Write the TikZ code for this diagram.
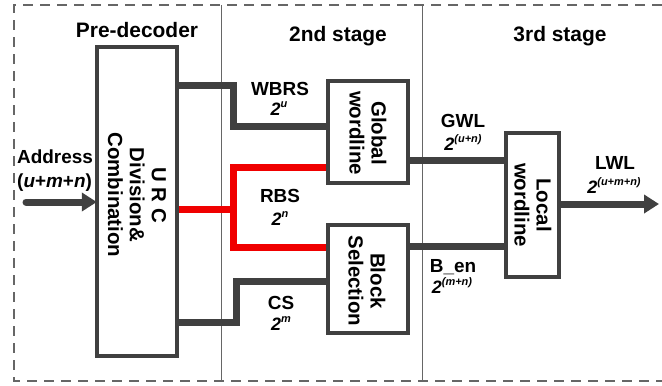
\documentclass[tikz,border=0pt]{standalone}
\usepackage{fontspec}
\setmainfont{Liberation Sans}
\usetikzlibrary{arrows.meta}
\definecolor{dk}{HTML}{404040}
\definecolor{rd}{HTML}{F00000}
\newcommand{\pw}[1]{2\raisebox{7.5bp}{\fontsize{11}{12}\selectfont #1}}
\tikzset{
  blk/.style={draw=dk, line width=3.5bp, fill=white, inner sep=0pt},
  wire/.style={draw=dk, line width=7bp},
  rwire/.style={draw=rd, line width=7bp},
  boxtxt/.style={font=\fontsize{20.5}{22}\selectfont\bfseries, align=center, rotate=-90, inner sep=0pt},
  stagetxt/.style={font=\fontsize{21}{24}\selectfont\bfseries, anchor=base, inner sep=0pt},
  lbl/.style={font=\fontsize{19}{21}\selectfont\bfseries, anchor=base, inner sep=0pt},
  sup/.style={font=\fontsize{18}{20}\selectfont\bfseries\itshape, anchor=base, inner sep=0pt},
  arr/.style={-{Triangle[length=15bp,width=18bp]}, line width=7bp, draw=dk, line cap=round}
}
\begin{document}
\begin{tikzpicture}[x=1bp,y=-1bp]
\useasboundingbox (0,0) rectangle (662,385);
% frame
\draw[gray!80!black, line width=1.8bp, dash pattern=on 10bp off 7bp] (662,5) -- (14,5) -- (14,381) -- (662,381);
\draw[gray!80!black, line width=1bp] (221,5) -- (221,381);
\draw[gray!80!black, line width=1bp] (422,5) -- (422,381);
% stage titles
\node[stagetxt] (t1) at (137,37) {Pre-decoder};
\node[stagetxt] (t2) at (338,41) {2nd stage};
\node[stagetxt] (t3) at (560,41) {3rd stage};
% node anchors for the boxes
\node (pre) at (137,201.5) [minimum width=80bp, minimum height=309bp] {};
\node (glob) at (368,132) [minimum width=80bp, minimum height=102bp] {};
\node (bsel) at (368,279) [minimum width=80bp, minimum height=108bp] {};
\node (loc) at (532.5,205) [minimum width=53bp, minimum height=144bp] {};
% wires
\coordinate (a0) at (26,202);
\coordinate (lw) at (659,204);
\draw[wire] (pre.east |- 0,85) -- (233,85) -- (233,126) -- (glob.west |- 0,126);
\draw[rwire] (pre.east |- 0,209) -- (233,209);
\draw[rwire] (glob.west |- 0,167) -- (233,167) -- (233,247) -- (bsel.west |- 0,247);
\draw[wire] (pre.east |- 0,322) -- (236,322) -- (236,281) -- (bsel.west |- 0,281);
\draw[wire] (glob.east |- 0,160) -- (loc.west |- 0,160);
\draw[wire] (bsel.east |- 0,246) -- (loc.west |- 0,246);
\draw[arr] (loc.east |- lw) -- (lw);
\draw[arr] (a0) -- (pre.west |- a0);
% boxes
\path[blk] (pre.south west) rectangle (pre.north east);
\path[blk] (glob.south west) rectangle (glob.north east);
\path[blk] (bsel.south west) rectangle (bsel.north east);
\path[blk] (loc.south west) rectangle (loc.north east);
% box texts
\node[boxtxt] (pret) at (137,195) {U R C\\Division\&\\Combination};
\node[boxtxt] (globt) at (368,133) {Global\\wordline};
\node[boxtxt] (bselt) at (367,281) {Block\\Selection};
\node[boxtxt] (loct) at (533,205) {Local\\wordline};
% labels
\node[lbl] (la) at (17,163) [anchor=base west] {Address};
\node[lbl] (lb) at (17,187) [anchor=base west] {(\textit{u}+\textit{m}+\textit{n})};
\node[lbl] (l1) at (280,95) {WBRS};
\node[sup] (s1) at (279,115) {\pw{u}};
\node[lbl] (l2) at (280,202) {RBS};
\node[sup] (s2) at (280,225) {\pw{n}};
\node[lbl] (l3) at (281,309) {CS};
\node[sup] (s3) at (281,330) {\pw{m}};
\node[lbl] (l4) at (463,127) {GWL};
\node[sup] (s4) at (463,150) {\pw{(u+n)}};
\node[lbl] (l5) at (615,169) {LWL};
\node[sup] (s5) at (614,193) {\pw{(u+m+n)}};
\node[lbl] (l6) at (453,272) {B\_en};
\node[sup] (s6) at (452,293) {\pw{(m+n)}};
\end{tikzpicture}
\end{document}
